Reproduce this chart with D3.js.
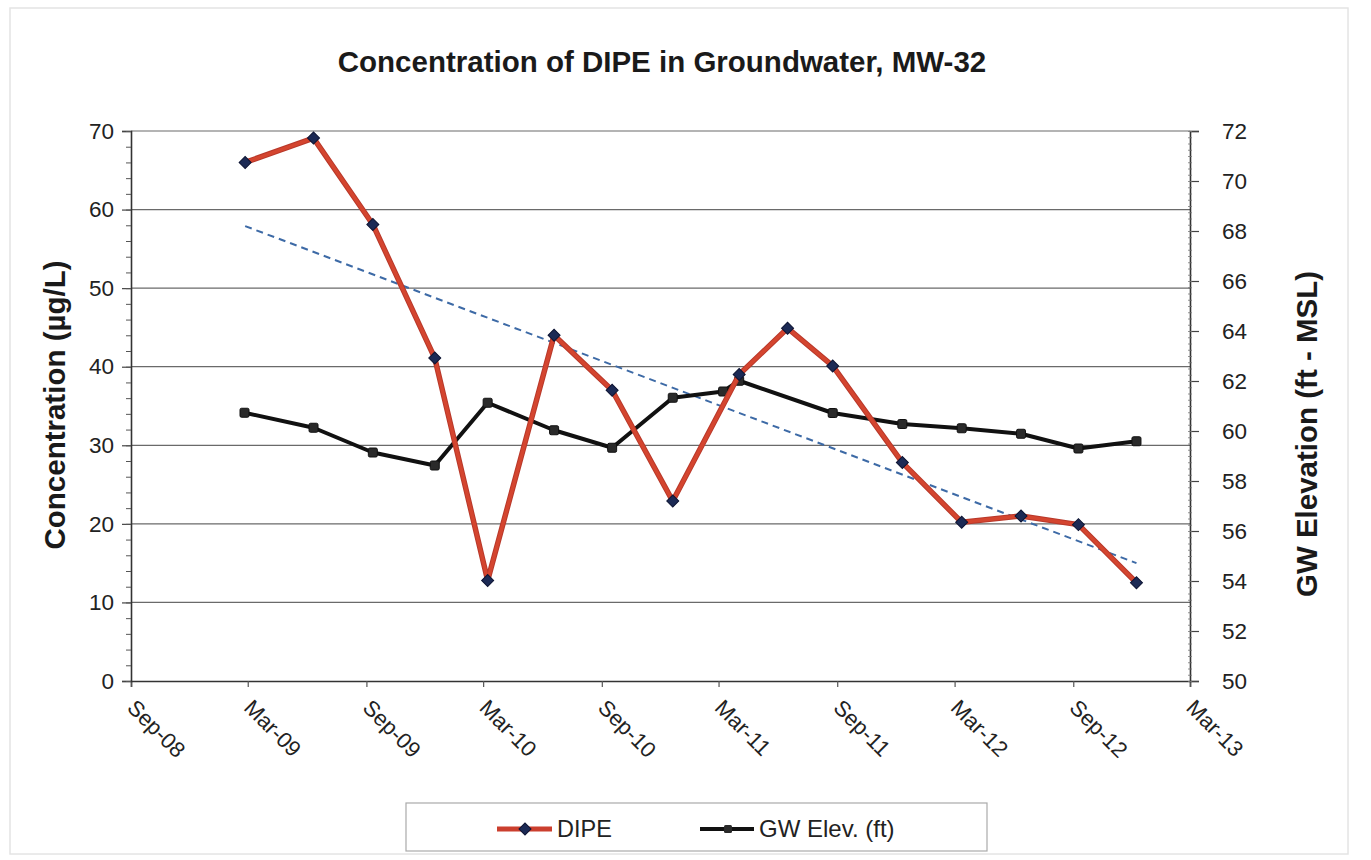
<!DOCTYPE html>
<html>
<head>
<meta charset="utf-8">
<script src="https://cdn.jsdelivr.net/npm/d3@7"></script>
<style>
  html, body { margin: 0; padding: 0; background: #fff; }
  svg { display: block; font-family: "Liberation Sans", Arial, sans-serif; }
</style>
</head>
<body>
<svg id="chart" width="1371" height="860"></svg>
<script>
// ---------- data ----------
const chartTitle = "Concentration of DIPE in Groundwater, MW-32";
const leftTitle = "Concentration (µg/L)";
const rightTitle = "GW Elevation (ft - MSL)";

const dipeDates = ["2009-02-25","2009-06-11","2009-09-11","2009-12-16","2010-03-08","2010-06-19",
  "2010-09-17","2010-12-20","2011-04-02","2011-06-16","2011-08-25","2011-12-11",
  "2012-03-12","2012-06-12","2012-09-09","2012-12-08"];
const dipeValues = [66.0, 69.1, 58.1, 41.1, 12.8, 44.0, 37.0, 22.9, 39.0, 44.9, 40.1, 27.8, 20.2, 21.0, 19.9, 12.5];

const gwDates = ["2009-02-24","2009-06-11","2009-09-11","2009-12-16","2010-03-08","2010-06-19",
  "2010-09-17","2010-12-20","2011-03-08","2011-04-02","2011-08-25","2011-12-11",
  "2012-03-12","2012-06-12","2012-09-09","2012-12-08"];
const gwValues = [60.73, 60.13, 59.14, 58.62, 61.13, 60.03, 59.33, 61.33, 61.58, 62.01, 60.72, 60.28, 60.11, 59.89, 59.30, 59.59];

// linear trendline of DIPE (endpoints)
const trendDates = ["2009-02-25", "2012-12-08"];
const trendValues = [57.9, 15.0];

const xDomain = ["2008-09-01", "2013-03-01"];
const leftDomain = [0, 70];
const rightDomain = [50, 72];
const legendLabels = ["DIPE", "GW Elev. (ft)"];

// ---------- layout ----------
const parse = d3.timeParse("%Y-%m-%d");
const svg = d3.select("#chart");
const L = 131, R = 1190, T = 131, B = 681;

const x = d3.scaleTime().domain(xDomain.map(parse)).range([L, R]);
const yL = d3.scaleLinear().domain(leftDomain).range([B, T]);
const yR = d3.scaleLinear().domain(rightDomain).range([B, T]);

// outer faint border
svg.append("rect").attr("x", 10).attr("y", 8).attr("width", 1338).attr("height", 846)
  .attr("fill", "none").attr("stroke", "#e4e4e4").attr("stroke-width", 1.5);

// title
svg.append("text").attr("x", 662).attr("y", 72).attr("text-anchor", "middle")
  .attr("font-size", 29.5).attr("font-weight", "bold").attr("fill", "#1a1a1a").text(chartTitle);

// gridlines
svg.append("g").selectAll("line").data(d3.range(10, 71, 10)).join("line")
  .attr("x1", L).attr("x2", R).attr("y1", d => yL(d)).attr("y2", d => yL(d))
  .attr("stroke", "#6a6a6a").attr("stroke-width", 1.2);

// x axis
const xTicks = d3.timeMonth.range(parse("2008-09-01"), parse("2013-03-02"), 6);
const xAxis = svg.append("g").attr("transform", `translate(0,${B})`)
  .call(d3.axisBottom(x).tickValues(xTicks).tickSize(6).tickFormat(""));
xAxis.select(".domain").attr("stroke", "#333").attr("stroke-width", 1.6);
xAxis.selectAll(".tick line").attr("stroke", "#555").attr("stroke-width", 1.2);
svg.append("g").selectAll("text").data(xTicks).join("text")
  .attr("transform", d => `translate(${x(d) - 5},${B + 28}) rotate(45)`)
  .attr("font-size", 22).attr("fill", "#222")
  .text(d3.timeFormat("%b-%y"));

// left axis
const yLAxis = svg.append("g").attr("transform", `translate(${L},0)`)
  .call(d3.axisLeft(yL).tickValues(d3.range(0, 71, 10)).tickSize(9).tickPadding(8));
yLAxis.select(".domain").attr("stroke", "#333").attr("stroke-width", 1.6);
yLAxis.selectAll(".tick line").attr("stroke", "#444").attr("stroke-width", 1.2);
yLAxis.selectAll(".tick text").attr("font-size", 22.5).attr("fill", "#222").attr("font-family", "Liberation Sans, Arial, sans-serif");
svg.append("g").attr("transform", `translate(${L},0)`)
  .call(d3.axisLeft(yL).tickValues(d3.range(0, 71, 2)).tickSize(5).tickFormat(""))
  .call(g => g.select(".domain").remove())
  .selectAll(".tick line").attr("stroke", "#555").attr("stroke-width", 1);

// right axis
const yRAxis = svg.append("g").attr("transform", `translate(${R},0)`)
  .call(d3.axisRight(yR).tickValues(d3.range(50, 73, 2)).tickSize(9).tickPadding(23));
yRAxis.select(".domain").attr("stroke", "#333").attr("stroke-width", 1.6);
yRAxis.selectAll(".tick line").attr("stroke", "#444").attr("stroke-width", 1.2);
yRAxis.selectAll(".tick text").attr("font-size", 22.5).attr("fill", "#222").attr("font-family", "Liberation Sans, Arial, sans-serif");
svg.append("g").attr("transform", `translate(${R - 2},0)`)
  .call(d3.axisRight(yR).tickValues(d3.range(50, 72.01, 0.25)).tickSize(4).tickFormat(""))
  .call(g => g.select(".domain").remove())
  .selectAll(".tick line").attr("stroke", "#777").attr("stroke-width", 0.8);

// axis titles
svg.append("text").attr("transform", `translate(65,405) rotate(-90)`).attr("text-anchor", "middle")
  .attr("font-size", 29.5).attr("font-weight", "bold").attr("fill", "#1a1a1a").text(leftTitle);
svg.append("text").attr("transform", `translate(1317,434) rotate(-90)`).attr("text-anchor", "middle")
  .attr("font-size", 29.5).attr("font-weight", "bold").attr("fill", "#1a1a1a").text(rightTitle);

// trendline
const trend = trendDates.map((d, i) => ({ d: parse(d), v: trendValues[i] }));
svg.append("path").datum(trend)
  .attr("d", d3.line().x(p => x(p.d)).y(p => yL(p.v)))
  .attr("fill", "none").attr("stroke", "#3d6aa6").attr("stroke-width", 2)
  .attr("stroke-dasharray", "7,5");

// GW line
const gw = gwDates.map((d, i) => ({ d: parse(d), v: gwValues[i] }));
svg.append("path").datum(gw)
  .attr("d", d3.line().x(p => x(p.d)).y(p => yR(p.v)))
  .attr("fill", "none").attr("stroke", "#111").attr("stroke-width", 4).attr("stroke-linejoin", "round");
svg.append("g").selectAll("rect").data(gw).join("rect")
  .attr("x", p => x(p.d) - 4.5).attr("y", p => yR(p.v) - 4.5).attr("width", 9).attr("height", 9)
  .attr("rx", 1.5)
  .attr("fill", "#2a2a2a").attr("stroke", "#111").attr("stroke-width", 1);

// DIPE line
const dipe = dipeDates.map((d, i) => ({ d: parse(d), v: dipeValues[i] }));
svg.append("path").datum(dipe)
  .attr("d", d3.line().x(p => x(p.d)).y(p => yL(p.v)))
  .attr("fill", "none").attr("stroke", "#b8382a").attr("stroke-width", 5.5).attr("stroke-linejoin", "round");
svg.append("path").datum(dipe)
  .attr("d", d3.line().x(p => x(p.d)).y(p => yL(p.v)))
  .attr("fill", "none").attr("stroke", "#d4452f").attr("stroke-width", 3.5).attr("stroke-linejoin", "round");
const diamond = d3.symbol(d3.symbolSquare, 72);
svg.append("g").selectAll("path").data(dipe).join("path")
  .attr("d", diamond)
  .attr("transform", p => `translate(${x(p.d)},${yL(p.v)}) rotate(45)`)
  .attr("fill", "#1c2a55").attr("stroke", "#0d1433").attr("stroke-width", 1);

// legend
const lg = svg.append("g");
lg.append("rect").attr("x", 406).attr("y", 803).attr("width", 581).attr("height", 48)
  .attr("fill", "#fff").attr("stroke", "#aaa").attr("stroke-width", 1.2);
const ly = 829;
lg.append("line").attr("x1", 497).attr("x2", 552).attr("y1", ly).attr("y2", ly)
  .attr("stroke", "#cb3f2e").attr("stroke-width", 5);
lg.append("path").attr("d", diamond).attr("transform", `translate(525,${ly}) rotate(45)`)
  .attr("fill", "#1c2a55").attr("stroke", "#0d1433");
lg.append("text").attr("x", 557).attr("y", ly + 8).attr("font-size", 23.5).attr("fill", "#222").text(legendLabels[0]);
lg.append("line").attr("x1", 700).attr("x2", 754).attr("y1", ly).attr("y2", ly)
  .attr("stroke", "#111").attr("stroke-width", 4);
lg.append("rect").attr("x", 724).attr("y", ly - 4).attr("width", 8).attr("height", 8).attr("rx", 1.5).attr("fill", "#2a2a2a");
lg.append("text").attr("x", 759).attr("y", ly + 8).attr("font-size", 24).attr("fill", "#222").text(legendLabels[1]);
</script>
</body>
</html>
